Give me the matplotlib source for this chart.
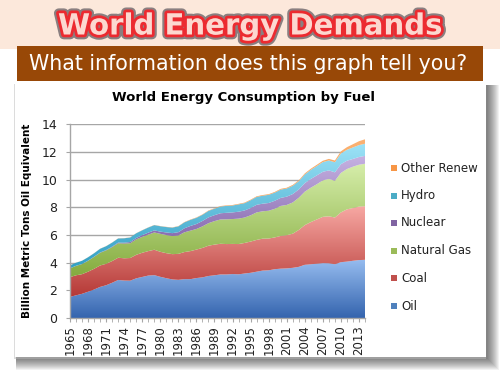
import numpy as np
import matplotlib
matplotlib.use("Agg")
import matplotlib.pyplot as plt
from matplotlib.colors import LinearSegmentedColormap
from matplotlib.patches import Rectangle, PathPatch
import matplotlib.patheffects as pe

# ---------------- data (billion tonnes oil equivalent) ----------------
years = list(range(1965, 2015))
oil = [1.53, 1.64, 1.75, 1.90, 2.06, 2.25, 2.37, 2.55, 2.75, 2.71,
       2.70, 2.87, 2.97, 3.07, 3.10, 2.98, 2.88, 2.79, 2.76, 2.81,
       2.81, 2.89, 2.94, 3.04, 3.09, 3.15, 3.15, 3.18, 3.16, 3.22,
       3.27, 3.35, 3.43, 3.45, 3.53, 3.57, 3.59, 3.63, 3.70, 3.85,
       3.89, 3.93, 3.97, 3.96, 3.89, 4.04, 4.08, 4.14, 4.19, 4.21]
coal = [1.43, 1.45, 1.42, 1.45, 1.50, 1.55, 1.55, 1.57, 1.61, 1.61,
        1.64, 1.70, 1.75, 1.77, 1.84, 1.81, 1.81, 1.83, 1.88, 1.96,
        2.03, 2.06, 2.13, 2.19, 2.22, 2.22, 2.20, 2.18, 2.19, 2.21,
        2.26, 2.30, 2.31, 2.30, 2.30, 2.37, 2.40, 2.47, 2.67, 2.87,
        3.05, 3.20, 3.35, 3.40, 3.38, 3.60, 3.78, 3.82, 3.87, 3.88]
gas = [0.63, 0.68, 0.73, 0.79, 0.86, 0.92, 0.97, 1.01, 1.05, 1.07,
       1.07, 1.12, 1.15, 1.19, 1.25, 1.30, 1.31, 1.31, 1.33, 1.43,
       1.48, 1.49, 1.56, 1.63, 1.70, 1.76, 1.79, 1.80, 1.84, 1.84,
       1.90, 1.99, 1.98, 2.01, 2.07, 2.17, 2.19, 2.26, 2.33, 2.42,
       2.49, 2.55, 2.64, 2.70, 2.66, 2.86, 2.92, 2.99, 3.03, 3.07]
nuclear = [0.006, 0.009, 0.010, 0.013, 0.014, 0.018, 0.025, 0.035, 0.045, 0.058,
           0.085, 0.100, 0.125, 0.145, 0.150, 0.160, 0.190, 0.210, 0.240, 0.290,
           0.340, 0.360, 0.390, 0.420, 0.430, 0.450, 0.470, 0.480, 0.500, 0.510,
           0.530, 0.550, 0.550, 0.560, 0.580, 0.580, 0.600, 0.610, 0.600, 0.620,
           0.630, 0.640, 0.620, 0.620, 0.610, 0.630, 0.600, 0.560, 0.560, 0.570]
hydro = [0.21, 0.22, 0.23, 0.24, 0.25, 0.27, 0.28, 0.29, 0.30, 0.32,
         0.33, 0.34, 0.35, 0.37, 0.38, 0.39, 0.39, 0.40, 0.42, 0.43,
         0.44, 0.45, 0.45, 0.47, 0.47, 0.49, 0.50, 0.50, 0.53, 0.53,
         0.56, 0.57, 0.58, 0.59, 0.59, 0.60, 0.59, 0.60, 0.60, 0.63,
         0.66, 0.68, 0.70, 0.72, 0.73, 0.78, 0.79, 0.83, 0.86, 0.88]
other = [0.005, 0.005, 0.005, 0.006, 0.006, 0.007, 0.007, 0.008, 0.008, 0.009,
         0.009, 0.010, 0.010, 0.011, 0.012, 0.013, 0.014, 0.016, 0.018, 0.020,
         0.022, 0.024, 0.026, 0.028, 0.030, 0.032, 0.034, 0.036, 0.038, 0.039,
         0.041, 0.043, 0.046, 0.048, 0.050, 0.052, 0.054, 0.058, 0.062, 0.070,
         0.078, 0.086, 0.097, 0.110, 0.125, 0.150, 0.190, 0.235, 0.280, 0.320]

series_names = ["Oil", "Coal", "Natural Gas", "Nuclear", "Hydro", "Other Renew"]
series_values = [oil, coal, gas, nuclear, hydro, other]
tick_years = list(range(1965, 2014, 3))

# gradient colours (dark bottom -> light top) and legend colours
grad_colors = [("#3464ae", "#97bdf0"),
               ("#b53835", "#f7a8a3"),
               ("#84ab3e", "#d6eeaa"),
               ("#73549e", "#c6b2e2"),
               ("#32a0c4", "#9de2f7"),
               ("#ef8a2e", "#fbb274")]
legend_colors = ["#4f81bd", "#c0504d", "#9bbb59", "#8064a2", "#4bacc6", "#f79646"]

W, H = 500, 375
fig = plt.figure(figsize=(5, 3.75), dpi=100)
fig.patch.set_facecolor("white")

# ---------------- background layer (pixel coordinates) ----------------
bg = fig.add_axes([0, 0, 1, 1], zorder=0)
bg.set_xlim(0, W)
bg.set_ylim(H, 0)
bg.axis("off")
bg.add_patch(Rectangle((0, 0), W, 49, fc="#fce8db", ec="none"))

# card shadow
card = (15, 84, 471, 273)  # x, y, w, h
for i in range(12, 0, -1):
    bg.add_patch(Rectangle((card[0] + 1, card[1] + 1), card[2] + i, card[3] + i,
                           fc="black", ec="none", alpha=0.05))
bg.add_patch(Rectangle((card[0] - 1.5, card[1]), card[2] + 1.5, card[3] + 1.5,
                       fc="#bbbbbb", ec="none", alpha=0.5))
bg.add_patch(Rectangle((card[0], card[1]), card[2], card[3], fc="white", ec="none"))

# banner
bg.add_patch(Rectangle((17, 45.5), 466, 35.5, fc="#984807", ec="none"))
bg.text(248, 64, "What information does this graph tell you?", color="white",
        fontsize=14.8, ha="center", va="center", family="DejaVu Sans")

# main title with outline
bg.text(250, 26.5, "World Energy Demands", fontsize=21, fontweight="bold",
        color="#fcd8d0", ha="center", va="center", family="DejaVu Sans",
        path_effects=[pe.Stroke(linewidth=7, foreground="#8a7f80"),
                      pe.Stroke(linewidth=4, foreground="#ec2a30"),
                      pe.Normal()])

# chart title
bg.text(243, 97, "World Energy Consumption by Fuel", fontsize=9.5, fontweight="bold",
        color="black", ha="center", va="center", family="DejaVu Sans")

# ---------------- chart ----------------
ax = fig.add_axes([70 / W, 1 - 318 / H, 295 / W, (318 - 124.5) / H], zorder=2)
ax.patch.set_alpha(0)
x = np.array(years, dtype=float)
base = np.zeros_like(x)
for k, (name, vals) in enumerate(zip(series_names, series_values)):
    top = base + np.array(vals)
    poly = ax.fill_between(x, base, top, color="none", lw=0)
    path = poly.get_paths()[0]
    c0, c1 = grad_colors[k]
    cmap = LinearSegmentedColormap.from_list("g%d" % k, [c0, c1])
    grad = np.linspace(0, 1, 256).reshape(-1, 1)
    ymin, ymax = base.min(), top.max()
    im = ax.imshow(grad, cmap=cmap, origin="lower", aspect="auto",
                   extent=[x[0], x[-1], ymin, ymax], zorder=2 + k * 0.01,
                   interpolation="bilinear")
    patch = PathPatch(path, transform=ax.transData, fc="none", ec="none")
    ax.add_patch(patch)
    im.set_clip_path(patch)
    base = top

ax.set_xlim(years[0], years[-1])
ax.set_ylim(0, 14)
ax.set_yticks(range(0, 15, 2))
ax.yaxis.grid(True, color="#a6a6a6", lw=1)
ax.set_axisbelow(True)
for s in ["top", "right"]:
    ax.spines[s].set_visible(False)
for s in ["left", "bottom"]:
    ax.spines[s].set_color("#a6a6a6")
    ax.spines[s].set_linewidth(1)
ax.set_xticks(tick_years)
ax.set_xticklabels([str(y) for y in tick_years], rotation=90, fontsize=8.5, color="#222222")
ax.set_xticks(years, minor=True)
ax.tick_params(axis="x", which="both", direction="out", length=3, color="#a6a6a6", pad=2)
ax.tick_params(axis="y", direction="out", length=3, color="#a6a6a6", labelsize=9,
               labelcolor="#222222", pad=6)
ax.set_ylabel("Billion Metric Tons Oil Equivalent", fontsize=7.5, fontweight="bold",
              labelpad=7)

# ---------------- legend (manual) ----------------
rows_y = [306, 278, 251, 223, 196, 168]
for name, col, yy in zip(series_names, legend_colors, rows_y):
    bg.add_patch(Rectangle((391, yy - 3.5), 6, 6, fc=col, ec="none", zorder=3))
    bg.text(401, yy, name, fontsize=8.5, va="center", ha="left", color="#222222", zorder=3)

fig.savefig("out.png", dpi=100)
